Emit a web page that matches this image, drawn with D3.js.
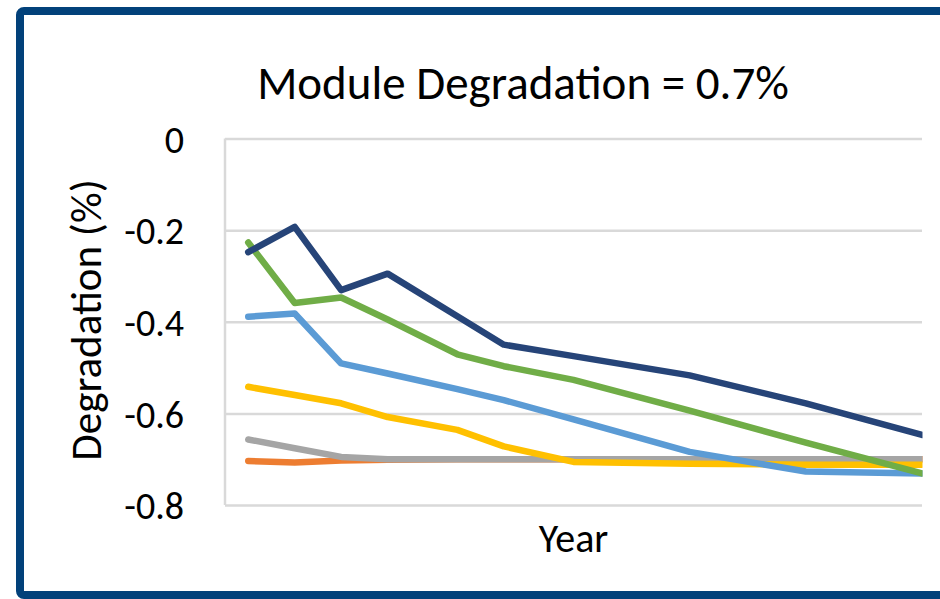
<!DOCTYPE html>
<html>
<head>
<meta charset="utf-8">
<script src="https://cdn.jsdelivr.net/npm/d3@7"></script>
<style>
  html, body { margin: 0; padding: 0; background: #ffffff; }
  svg { display: block; font-family: Calibri, Carlito, Lato, "Open Sans", sans-serif; }
</style>
</head>
<body>
<svg id="chart" width="940" height="599"></svg>
<script>
// ---- data ----
const years = [1, 3, 5, 7, 10, 12, 15, 20, 25, 30];
const orangeVals    = [-0.704, -0.707, -0.703, -0.701, -0.700, -0.700, -0.700, -0.700, -0.700, -0.700];
const grayVals      = [-0.657, -0.676, -0.695, -0.700, -0.700, -0.700, -0.700, -0.700, -0.700, -0.700];
const yellowVals    = [-0.542, -0.560, -0.578, -0.608, -0.636, -0.672, -0.706, -0.710, -0.712, -0.712];
const lightBlueVals = [-0.389, -0.382, -0.491, -0.513, -0.547, -0.571, -0.613, -0.684, -0.727, -0.731];
const greenVals     = [-0.227, -0.359, -0.347, -0.395, -0.471, -0.497, -0.527, -0.594, -0.664, -0.731];
const navyVals      = [-0.248, -0.193, -0.331, -0.295, -0.388, -0.450, -0.475, -0.517, -0.578, -0.647];
const seriesColors  = ["#ED7D31", "#A5A5A5", "#FFC000", "#5B9BD5", "#70AD47", "#264478"];
const yTickValues   = [0, -0.2, -0.4, -0.6, -0.8];
const yTickLabels   = ["0", "-0.2", "-0.4", "-0.6", "-0.8"];
const xDomain       = [0, 30];
const titleText     = "Module Degradation = 0.7%";
const yTitleText    = "Degradation (%)";
const xTitleText    = "Year";

const seriesList = [orangeVals, grayVals, yellowVals, lightBlueVals, greenVals, navyVals];

// ---- layout ----
const svg = d3.select("#chart");
const plot = { left: 225, right: 922, top: 138.5, bottom: 505 };

// frame
svg.append("rect")
  .attr("x", 20).attr("y", 11)
  .attr("width", 960).attr("height", 584)
  .attr("rx", 4).attr("ry", 4)
  .attr("fill", "#ffffff")
  .attr("stroke", "#02417A")
  .attr("stroke-width", 8);

const x = d3.scaleLinear().domain(xDomain).range([plot.left, plot.right]);
const y = d3.scaleLinear().domain([-0.8, 0]).range([plot.bottom, plot.top]);

// gridlines + y tick labels
const yAxis = d3.axisLeft(y)
  .tickValues(yTickValues)
  .tickSize(-(plot.right - plot.left))
  .tickPadding(41)
  .tickFormat((d, i) => yTickLabels[i]);

const gy = svg.append("g")
  .attr("transform", `translate(${plot.left},0)`)
  .call(yAxis);
gy.select(".domain").remove();
gy.selectAll(".tick line")
  .attr("stroke", "#D9D9D9")
  .attr("stroke-width", 2.5);
gy.selectAll(".tick text")
  .attr("fill", "#000000")
  .attr("dy", "0.36em")
  .style("font-size", "38px")
  .style("font-family", "Calibri, Carlito, Lato, sans-serif");

// vertical axis line
svg.append("line")
  .attr("x1", x(xDomain[0])).attr("x2", x(xDomain[0]))
  .attr("y1", y(0)).attr("y2", y(-0.8))
  .attr("stroke", "#D9D9D9")
  .attr("stroke-width", 2.5);

// clip so lines stop at plot edge on the right
svg.append("clipPath").attr("id", "plotclip")
  .append("rect")
  .attr("x", 0).attr("y", 0)
  .attr("width", plot.right + 0.5).attr("height", 599);

const line = d3.line()
  .x((d, i) => x(years[i]))
  .y(d => y(d));

svg.append("g").attr("clip-path", "url(#plotclip)")
  .selectAll("path")
  .data(seriesList)
  .join("path")
  .attr("d", d => line(d))
  .attr("fill", "none")
  .attr("stroke", (d, i) => seriesColors[i])
  .attr("stroke-width", 6.5)
  .attr("stroke-linejoin", "round")
  .attr("stroke-linecap", "round");

// title
svg.append("text")
  .attr("x", 523).attr("y", 99)
  .attr("text-anchor", "middle")
  .style("font-size", "47px")
  .attr("fill", "#000")
  .text(titleText);

// y-axis title
svg.append("text")
  .attr("transform", "translate(101,320) rotate(-90)")
  .attr("text-anchor", "middle")
  .style("font-size", "43px")
  .attr("fill", "#000")
  .text(yTitleText);

// x-axis title
svg.append("text")
  .attr("x", (plot.left + plot.right) / 2).attr("y", 552)
  .attr("text-anchor", "middle")
  .style("font-size", "40px")
  .attr("fill", "#000")
  .text(xTitleText);
</script>
</body>
</html>
